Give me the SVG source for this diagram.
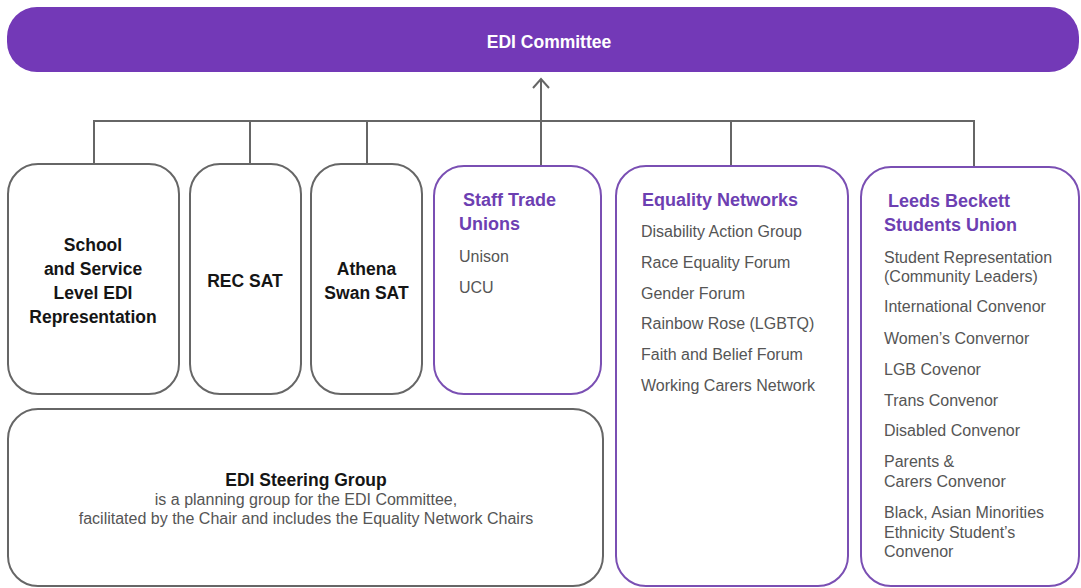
<svg xmlns="http://www.w3.org/2000/svg" width="1081" height="588" viewBox="0 0 1081 588">
<style>
.gbox{fill:#fff;stroke:#666;stroke-width:2}
.pbox{fill:#fff;stroke:#7a4fb3;stroke-width:2}
.bt{font-family:"Liberation Sans",Arial,sans-serif;font-weight:bold;font-size:17.5px;fill:#151515;text-anchor:middle}
.ph{font-family:"Liberation Sans",Arial,sans-serif;font-weight:bold;font-size:18px;fill:#6d3fb2}
.it{font-family:"Liberation Sans",Arial,sans-serif;font-size:16px;fill:#555}
.sub{font-family:"Liberation Sans",Arial,sans-serif;font-size:16px;fill:#555;text-anchor:middle}
.conn{fill:none;stroke:#666;stroke-width:2}
</style>
<rect width="1081" height="588" fill="#fff"/>
<g id="edi-committee">
<rect x="7" y="7" width="1072" height="65" rx="30" ry="30" fill="#7339b7"/>
<text x="549" y="48" font-family="Liberation Sans,Arial,sans-serif" font-weight="bold" font-size="17.5" fill="#fff" text-anchor="middle">EDI Committee</text>
</g>
<g id="connectors">
<path class="conn" d="M94 164V121H974V167M250 121V164M367 121V164M731 121V166"/>
<path class="conn" d="M541 165V80"/>
<path class="conn" d="M533 88L541 79L549 88"/>
</g>
<g id="school-service">
<rect class="gbox" x="8" y="164" width="171" height="230" rx="30"/>
<text class="bt" x="93" y="251">School</text>
<text class="bt" x="93" y="275">and Service</text>
<text class="bt" x="93" y="299">Level EDI</text>
<text class="bt" x="93" y="323">Representation</text>
</g>
<g id="rec-sat">
<rect class="gbox" x="190" y="164" width="111" height="230" rx="30"/>
<text class="bt" x="245" y="287">REC SAT</text>
</g>
<g id="athena-swan-sat">
<rect class="gbox" x="311" y="164" width="111" height="230" rx="30"/>
<text class="bt" x="366.5" y="275">Athena</text>
<text class="bt" x="366.5" y="299">Swan SAT</text>
</g>
<g id="staff-trade-unions">
<rect class="pbox" x="434" y="166" width="167" height="228" rx="30"/>
<text class="ph" x="463" y="206">Staff Trade</text>
<text class="ph" x="459" y="230">Unions</text>
<text class="it" x="459" y="262">Unison</text>
<text class="it" x="459" y="293">UCU</text>
</g>
<g id="equality-networks">
<rect class="pbox" x="616" y="166" width="232" height="420" rx="30"/>
<text class="ph" x="642" y="206">Equality Networks</text>
<text class="it" x="641" y="237">Disability Action Group</text>
<text class="it" x="641" y="268">Race Equality Forum</text>
<text class="it" x="641" y="299">Gender Forum</text>
<text class="it" x="641" y="329">Rainbow Rose (LGBTQ)</text>
<text class="it" x="641" y="360">Faith and Belief Forum</text>
<text class="it" x="641" y="391">Working Carers Network</text>
</g>
<g id="students-union">
<rect class="pbox" x="861" y="167" width="218" height="419" rx="30"/>
<text class="ph" x="888" y="207">Leeds Beckett</text>
<text class="ph" x="884" y="231">Students Union</text>
<text class="it" x="884" y="263">Student Representation</text>
<text class="it" x="884" y="282">(Community Leaders)</text>
<text class="it" x="884" y="312">International Convenor</text>
<text class="it" x="884" y="344">Women’s Convernor</text>
<text class="it" x="884" y="375">LGB Covenor</text>
<text class="it" x="884" y="406">Trans Convenor</text>
<text class="it" x="884" y="436">Disabled Convenor</text>
<text class="it" x="884" y="467">Parents &amp;</text>
<text class="it" x="884" y="487">Carers Convenor</text>
<text class="it" x="884" y="518">Black, Asian Minorities</text>
<text class="it" x="884" y="538">Ethnicity Student’s</text>
<text class="it" x="884" y="557">Convenor</text>
</g>
<g id="edi-steering-group">
<rect class="gbox" x="8" y="409" width="595" height="177" rx="30"/>
<text class="bt" x="306" y="486" font-size="18">EDI Steering Group</text>
<text class="sub" x="306" y="505">is a planning group for the EDI Committee,</text>
<text class="sub" x="306" y="524">facilitated by the Chair and includes the Equality Network Chairs</text>
</g>
</svg>
